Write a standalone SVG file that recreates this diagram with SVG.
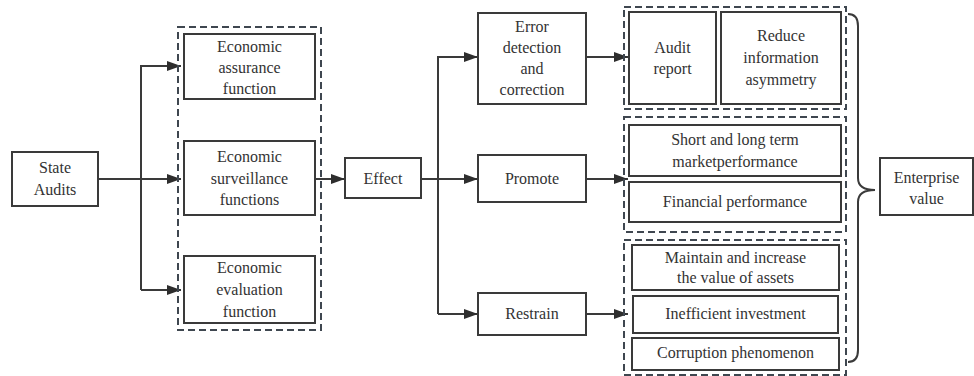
<svg xmlns="http://www.w3.org/2000/svg" width="974" height="376" viewBox="0 0 974 376" font-family="Times New Roman, Liberation Serif, serif" font-size="16" text-anchor="middle" fill="#333">
<style>
.box{fill:#fff;stroke:#3a3a3a;stroke-width:2}
.grp{fill:none;stroke:#3f4750;stroke-width:2;stroke-dasharray:7 4}
.ln{fill:none;stroke:#3a3a3a;stroke-width:2}
</style>
<defs>
<marker id="ah" viewBox="0 0 14 10" refX="14" refY="5" markerWidth="14" markerHeight="10" markerUnits="userSpaceOnUse" orient="auto">
<path d="M0,0 L14,5 L0,10 z" fill="#2e2e2e"/>
</marker>
</defs>
<rect width="974" height="376" fill="#fff"/>

<g id="connectors">
<path class="ln" d="M98,179 H181"/>
<path class="ln" d="M141,290 V66 H181" marker-end="url(#ah)"/>
<path class="ln" d="M141,179 H181" marker-end="url(#ah)"/>
<path class="ln" d="M141,290 H181" marker-end="url(#ah)"/>
<path class="ln" d="M315,179 H345" marker-end="url(#ah)"/>
<path class="ln" d="M421,179 H438"/>
<path class="ln" d="M438,314 V57 H478" marker-end="url(#ah)"/>
<path class="ln" d="M438,179 H478" marker-end="url(#ah)"/>
<path class="ln" d="M438,314 H478" marker-end="url(#ah)"/>
<path class="ln" d="M586,57 H628" marker-end="url(#ah)"/>
<path class="ln" d="M586,179 H628" marker-end="url(#ah)"/>
<path class="ln" d="M586,314 H628" marker-end="url(#ah)"/>
<path class="ln" d="M848,14 Q858,14 858,26 V178 Q858,190 875,190 Q858,190 858,202 V350 Q858,362 848,362" stroke-width="1.6"/>
</g>

<g id="state-audits">
<rect class="box" x="12" y="152" width="86" height="54"/>
<text x="55" y="173">State</text>
<text x="55" y="195">Audits</text>
</g>

<g id="functions-group">
<rect class="grp" x="178" y="27" width="143" height="303"/>
</g>
<g id="economic-assurance">
<rect class="box" x="184" y="34" width="131" height="65"/>
<text x="249.5" y="52">Economic</text>
<text x="249.5" y="73">assurance</text>
<text x="249.5" y="94">function</text>
</g>
<g id="economic-surveillance">
<rect class="box" x="184" y="141" width="131" height="74"/>
<text x="249.5" y="162">Economic</text>
<text x="249.5" y="184">surveillance</text>
<text x="249.5" y="205">functions</text>
</g>
<g id="economic-evaluation">
<rect class="box" x="184" y="256" width="131" height="67"/>
<text x="249.5" y="273">Economic</text>
<text x="249.5" y="295">evaluation</text>
<text x="249.5" y="317">function</text>
</g>

<g id="effect">
<rect class="box" x="345" y="158" width="76" height="40"/>
<text x="383" y="184">Effect</text>
</g>

<g id="error-detection">
<rect class="box" x="478" y="13" width="108" height="91"/>
<text x="532" y="32">Error</text>
<text x="532" y="53">detection</text>
<text x="532" y="74">and</text>
<text x="532" y="95">correction</text>
</g>
<g id="promote">
<rect class="box" x="478" y="155" width="108" height="47"/>
<text x="532" y="184">Promote</text>
</g>
<g id="restrain">
<rect class="box" x="478" y="293" width="108" height="42"/>
<text x="532" y="319">Restrain</text>
</g>

<g id="group-a">
<rect class="grp" x="624" y="7" width="222" height="102"/>
</g>
<g id="audit-report">
<rect class="box" x="629" y="12" width="87" height="92"/>
<text x="672.5" y="53">Audit</text>
<text x="672.5" y="74">report</text>
</g>
<g id="reduce-info">
<rect class="box" x="721" y="12" width="120" height="92"/>
<text x="781" y="41">Reduce</text>
<text x="781" y="63">information</text>
<text x="781" y="85">asymmetry</text>
</g>

<g id="group-b">
<rect class="grp" x="624" y="117" width="222" height="115"/>
</g>
<g id="market-performance">
<rect class="box" x="629" y="125" width="212" height="51"/>
<text x="735" y="145">Short and long term</text>
<text x="735" y="167">marketperformance</text>
</g>
<g id="financial-performance">
<rect class="box" x="629" y="182" width="212" height="40"/>
<text x="735" y="207">Financial performance</text>
</g>

<g id="group-c">
<rect class="grp" x="624" y="240" width="222" height="135"/>
</g>
<g id="maintain-assets">
<rect class="box" x="632" y="245" width="207" height="45"/>
<text x="735.5" y="263">Maintain and increase</text>
<text x="735.5" y="283">the value of assets</text>
</g>
<g id="inefficient-investment">
<rect class="box" x="633" y="296" width="205" height="37"/>
<text x="735.5" y="319">Inefficient investment</text>
</g>
<g id="corruption">
<rect class="box" x="632" y="338" width="207" height="32"/>
<text x="735.5" y="358">Corruption phenomenon</text>
</g>

<g id="enterprise-value">
<rect class="box" x="880" y="158" width="93" height="57"/>
<text x="926.5" y="183">Enterprise</text>
<text x="926.5" y="204">value</text>
</g>
</svg>
